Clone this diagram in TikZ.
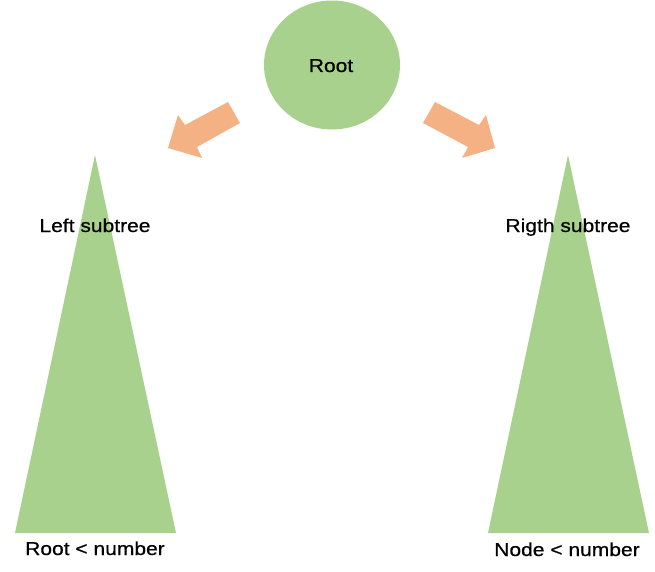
\documentclass[tikz,border=0pt]{standalone}
\usepackage{fontspec}
\usetikzlibrary{shapes.geometric}
\setmainfont{Liberation Sans}[FakeStretch=1.13,FakeBold=0.6]
\definecolor{leafgreen}{HTML}{A9D18E}
\definecolor{arroworange}{HTML}{F4B183}
\begin{document}
\begin{tikzpicture}[x=1pt,y=-1pt,
  lbl/.style={inner sep=0pt,anchor=base,font=\fontsize{18.6}{21}\selectfont,text=black},
  greenfill/.style={fill=leafgreen,draw=none},
  orangefill/.style={fill=arroworange,draw=none}]
\useasboundingbox (0,0) rectangle (655,572);
% root
\node[ellipse,greenfill,minimum width=136pt,minimum height=129pt,inner sep=0pt] (root) at (332,65) {};
\node[lbl] (roottext) at (331,72) {Root};
% triangles
\coordinate (lapex) at (95,155);
\coordinate (lbl1) at (15,533);
\coordinate (lbr1) at (176,533);
\fill[leafgreen] (lapex) -- (lbr1) -- (lbl1) -- cycle;
\coordinate (rapex) at (568,155);
\coordinate (rbl1) at (488,533);
\coordinate (rbr1) at (649,533);
\fill[leafgreen] (rapex) -- (rbr1) -- (rbl1) -- cycle;
% arrows
\fill[arroworange] (228,102) -- (240,123) -- (197,147) -- (202,158) -- (168,148) -- (178,115) -- (185,125) -- cycle;
\fill[arroworange] (435,102) -- (423,123) -- (468,147) -- (462,158) -- (495,148) -- (486,115) -- (479,125) -- cycle;
% labels
\node[lbl] (lsub) at (95,232) {Left subtree};
\node[lbl] (rsub) at (568,232) {Rigth subtree};
\node[lbl] (lcond) at (95,555) {Root < number};
\node[lbl] (rcond) at (567,556) {Node < number};
\end{tikzpicture}
\end{document}
